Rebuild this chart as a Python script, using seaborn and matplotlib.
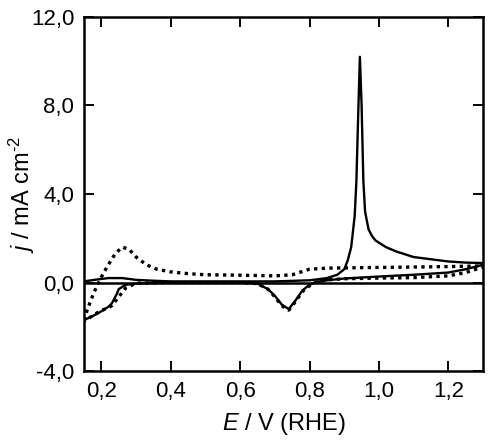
import numpy as np
import pandas as pd
import seaborn as sns
import matplotlib.pyplot as plt

# first sweep (solid), anodic then cathodic
e_solid_fwd = [0.15, 0.18, 0.22, 0.26, 0.30, 0.35, 0.40, 0.50, 0.60, 0.70, 0.80, 0.85, 0.88, 0.90,
               0.91, 0.92, 0.93, 0.935, 0.94, 0.945, 0.95, 0.955, 0.96, 0.97, 0.98, 0.99, 1.00, 1.02,
               1.05, 1.10, 1.15, 1.20, 1.25, 1.30]
j_solid_fwd = [0.05, 0.12, 0.20, 0.20, 0.12, 0.08, 0.05, 0.05, 0.05, 0.05, 0.10, 0.20, 0.35, 0.60,
               1.00, 1.60, 3.00, 4.60, 7.50, 10.2, 8.00, 4.60, 3.20, 2.40, 2.10, 1.90, 1.80, 1.60,
               1.40, 1.15, 1.05, 0.95, 0.90, 0.88]
e_solid_back = [1.30, 1.25, 1.20, 1.10, 1.00, 0.90, 0.85, 0.82, 0.80, 0.78, 0.76, 0.74, 0.72, 0.70,
                0.68, 0.65, 0.60, 0.50, 0.40, 0.30, 0.27, 0.25, 0.245, 0.23, 0.22, 0.19, 0.17, 0.15]
j_solid_back = [0.80, 0.60, 0.45, 0.35, 0.27, 0.18, 0.10, 0.02, -0.10, -0.35, -0.80, -1.20, -1.00, -0.60,
                -0.30, -0.05, 0.00, 0.00, 0.00, -0.05, -0.10, -0.30, -0.50, -0.95, -1.10, -1.40, -1.55, -1.70]

# second sweep (dotted)
e_dot_fwd = [0.15, 0.16, 0.18, 0.20, 0.22, 0.24, 0.26, 0.28, 0.30, 0.33, 0.36, 0.40, 0.45, 0.50,
             0.60, 0.70, 0.75, 0.80, 0.85, 0.90, 1.00, 1.10, 1.20, 1.30]
j_dot_fwd = [-1.70, -1.20, -0.40, 0.25, 0.80, 1.30, 1.60, 1.50, 1.15, 0.80, 0.60, 0.48, 0.40, 0.35,
             0.33, 0.30, 0.35, 0.60, 0.65, 0.66, 0.68, 0.70, 0.72, 0.75]
e_dot_back = [1.30, 1.25, 1.20, 1.10, 1.00, 0.90, 0.85, 0.82, 0.80, 0.78, 0.76, 0.74, 0.72, 0.70,
              0.68, 0.65, 0.60, 0.50, 0.40, 0.30, 0.27, 0.25, 0.23, 0.21, 0.19, 0.17, 0.15]
j_dot_back = [0.70, 0.45, 0.30, 0.22, 0.20, 0.17, 0.12, 0.03, -0.15, -0.40, -0.85, -1.25, -1.05, -0.65,
              -0.30, -0.05, 0.00, 0.00, 0.00, -0.03, -0.25, -0.65, -1.05, -1.20, -1.35, -1.55, -1.75]

x_ticks = [0.2, 0.4, 0.6, 0.8, 1.0, 1.2]
x_labels = ["0,2", "0,4", "0,6", "0,8", "1,0", "1,2"]
y_ticks = [-4.0, 0.0, 4.0, 8.0, 12.0]
y_labels = ["-4,0", "0,0", "4,0", "8,0", "12,0"]

sns.set_style("ticks", {"axes.edgecolor": "black", "text.color": "black",
                        "axes.labelcolor": "black", "xtick.color": "black", "ytick.color": "black"})
plt.rcParams['font.family'] = ['Liberation Sans', 'DejaVu Sans']
plt.rcParams['mathtext.fontset'] = 'custom'
plt.rcParams['mathtext.rm'] = 'Liberation Sans'
plt.rcParams['mathtext.it'] = 'Liberation Sans:italic'

solid = pd.DataFrame({"E": e_solid_fwd + e_solid_back, "j": j_solid_fwd + j_solid_back})
dotted = pd.DataFrame({"E": e_dot_fwd + e_dot_back, "j": j_dot_fwd + j_dot_back})

fig = plt.figure(figsize=(4.98, 4.40), dpi=100)
ax = fig.add_axes([0.1687, 0.1568, 0.8013, 0.8046])

ax.axhline(0, color="black", lw=1.8, zorder=1)
sns.lineplot(data=solid, x="E", y="j", sort=False, estimator=None, color="black", lw=1.7, ax=ax)
sns.lineplot(data=dotted, x="E", y="j", sort=False, estimator=None, color="black", lw=2.4,
             linestyle=(0, (1, 1.3)), ax=ax)

ax.set_xlim(0.15, 1.30)
ax.set_ylim(-4.0, 12.0)
ax.set_xticks(x_ticks)
ax.set_xticklabels(x_labels)
ax.set_yticks(y_ticks)
ax.set_yticklabels(y_labels)
ax.tick_params(direction="in", length=7, width=1.4, labelsize=16, top=True, right=True, pad=7,
               colors="black")
for s in ax.spines.values():
    s.set_linewidth(1.8)
    s.set_color("black")

ax.set_xlabel(r"$\it{E}$ / V (RHE)", fontsize=17, labelpad=7, color="black")
ax.set_ylabel(r"$\it{j}$ / mA cm$^{\mathrm{\text{-}2}}$", fontsize=17, color="black")
ax.yaxis.set_label_coords(-0.118, 0.5)

fig.savefig("out.png", dpi=100)
